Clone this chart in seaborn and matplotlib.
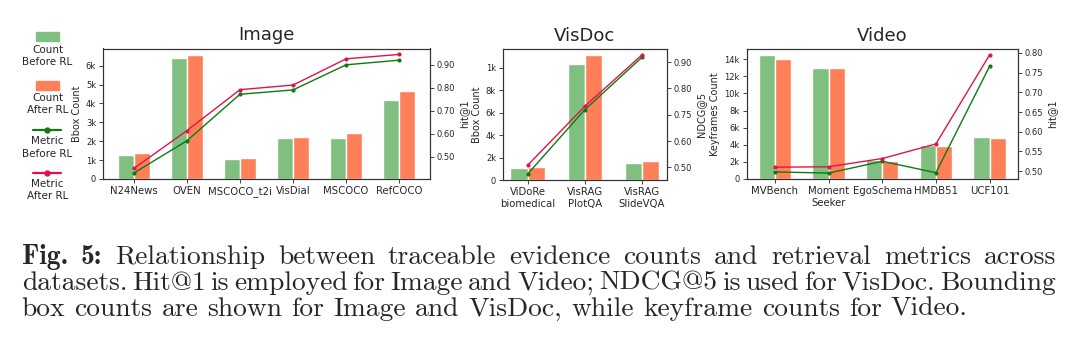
import numpy as np
import pandas as pd
import matplotlib
matplotlib.use("Agg")
import matplotlib.pyplot as plt
import seaborn as sns
from matplotlib.patches import Rectangle
from matplotlib.lines import Line2D

# ---- Image panel ----
image_names = ["N24News", "OVEN", "MSCOCO_t2i", "VisDial", "MSCOCO", "RefCOCO"]
image_count_before = [1260, 6400, 1050, 2160, 2160, 4160]
image_count_after = [1370, 6580, 1120, 2230, 2440, 4680]
image_hit_before = [0.430, 0.570, 0.772, 0.791, 0.900, 0.920]
image_hit_after = [0.450, 0.614, 0.792, 0.812, 0.926, 0.945]
image_count_ticks = [0, 1000, 2000, 3000, 4000, 5000, 6000]
image_count_labels = ["0", "1k", "2k", "3k", "4k", "5k", "6k"]
image_metric_ticks = [0.5, 0.6, 0.7, 0.8, 0.9]
image_metric_labels = ["0.50", "0.60", "0.70", "0.80", "0.90"]

# ---- VisDoc panel ----
visdoc_names = ["ViDoRe\nbiomedical", "VisRAG\nPlotQA", "VisRAG\nSlideVQA"]
visdoc_count_before = [1100, 10370, 1540]
visdoc_count_after = [1160, 11110, 1690]
visdoc_ndcg_before = [0.475, 0.719, 0.918]
visdoc_ndcg_after = [0.508, 0.732, 0.927]
visdoc_count_ticks = [0, 2000, 4000, 6000, 8000, 10000]
visdoc_count_labels = ["0", "2k", "4k", "6k", "8k", "1k"]
visdoc_metric_ticks = [0.5, 0.6, 0.7, 0.8, 0.9]
visdoc_metric_labels = ["0.50", "0.60", "0.75", "0.80", "0.90"]

# ---- Video panel ----
video_names = ["MVBench", "Moment\nSeeker", "EgoSchema", "HMDB51", "UCF101"]
video_count_before = [14460, 12990, 2200, 3980, 4950]
video_count_after = [14040, 12920, 2090, 3830, 4830]
video_hit_before = [0.498, 0.495, 0.525, 0.496, 0.766]
video_hit_after = [0.510, 0.511, 0.532, 0.569, 0.795]
video_count_ticks = [0, 2000, 4000, 6000, 8000, 10000, 12000, 14000]
video_count_labels = ["0", "2k", "4k", "6k", "8k", "10k", "12k", "14k"]
video_metric_ticks = [0.50, 0.55, 0.60, 0.65, 0.70, 0.75, 0.80]
video_metric_labels = ["0.50", "0.55", "0.60", "0.65", "0.70", "0.75", "0.80"]

caption_lines = [
    [("Fig.", True), ("5:", True), ("Relationship", False), ("between", False),
     ("traceable", False), ("evidence", False), ("counts", False), ("and", False),
     ("retrieval", False), ("metrics", False), ("across", False)],
    [(w, False) for w in "datasets. Hit@1 is employed for Image and Video; NDCG@5 is used for VisDoc. Bounding".split()],
    [(w, False) for w in "box counts are shown for Image and VisDoc, while keyframe counts for Video.".split()],
]

GREEN_BAR = "#7fbf7f"
ORANGE_BAR = "#ff7f59"
GREEN_LINE = "#0f7a0f"
RED_LINE = "#e0134a"

sns.set_style("ticks")
plt.rcParams["font.family"] = ["DejaVu Sans"]
plt.rcParams["axes.linewidth"] = 0.8
plt.rcParams["mathtext.fontset"] = "cm"

W, H = 1079, 349
fig = plt.figure(figsize=(W / 100, H / 100), dpi=100)


def px_axes(left, right, top, bottom):
    return fig.add_axes([left / W, 1 - bottom / H, (right - left) / W, (bottom - top) / H])


def draw_panel(ax, title, names, before, after, m_before, m_after,
               c_ticks, c_labels, m_ticks, m_labels, ylab_left, ylab_right):
    n = len(names)
    df = pd.DataFrame({
        "dataset": names * 2,
        "count": before + after,
        "stage": ["Before RL"] * n + ["After RL"] * n,
    })
    sns.barplot(data=df, x="dataset", y="count", hue="stage",
                palette=[GREEN_BAR, ORANGE_BAR], width=0.6, saturation=1,
                errorbar=None, legend=False, ax=ax)
    ax2 = ax.twinx()
    pos = np.arange(n)
    sns.lineplot(x=pos, y=m_before, ax=ax2, color=GREEN_LINE, lw=1,
                 marker="o", markersize=3, markeredgewidth=0)
    sns.lineplot(x=pos, y=m_after, ax=ax2, color=RED_LINE, lw=1,
                 marker="o", markersize=3, markeredgewidth=0)
    pad = 0.05 * (n - 1 + 0.6)
    ax.set_xlim(-0.3 - pad, n - 1 + 0.3 + pad)
    ax.set_xlabel("")
    ax.set_title(title, fontsize=13, pad=6)
    ax.set_yticks(c_ticks)
    ax.set_yticklabels(c_labels)
    ax.set_ylabel(ylab_left, fontsize=7, labelpad=3)
    ax2.set_yticks(m_ticks)
    ax2.set_yticklabels(m_labels)
    ax2.set_ylabel(ylab_right, fontsize=7, labelpad=3)
    ax.tick_params(axis="x", labelsize=7.3, length=3, width=0.6, pad=2)
    ax.tick_params(axis="y", labelsize=6, length=3, width=0.6, pad=2)
    ax2.tick_params(axis="y", labelsize=6, length=3, width=0.6, pad=2)
    for a in (ax, ax2):
        for s in a.spines.values():
            s.set_color("#333333")


ax_img = px_axes(103, 430, 48.5, 179)
draw_panel(ax_img, "Image", image_names, image_count_before, image_count_after,
           image_hit_before, image_hit_after, image_count_ticks, image_count_labels,
           image_metric_ticks, image_metric_labels, "Bbox Count", "hit@1")

ax_doc = px_axes(503, 666.5, 49, 180)
draw_panel(ax_doc, "VisDoc", visdoc_names, visdoc_count_before, visdoc_count_after,
           visdoc_ndcg_before, visdoc_ndcg_after, visdoc_count_ticks, visdoc_count_labels,
           visdoc_metric_ticks, visdoc_metric_labels, "Bbox Count", "NDCG@5")

ax_vid = px_axes(746.5, 1018, 49, 179)
draw_panel(ax_vid, "Video", video_names, video_count_before, video_count_after,
           video_hit_before, video_hit_after, video_count_ticks, video_count_labels,
           video_metric_ticks, video_metric_labels, "Keyframes Count", "hit@1")

# ---- legend column on the left ----
lax = px_axes(0, 100, 0, 200)
lax.set_xlim(0, 100)
lax.set_ylim(200, 0)
lax.axis("off")
lax.add_patch(Rectangle((36, 32), 23, 9, color=GREEN_BAR))
lax.add_patch(Rectangle((36, 80.5), 23, 9, color=ORANGE_BAR))
lax.add_line(Line2D([33, 61], [130, 130], color=GREEN_LINE, lw=1.6))
lax.add_line(Line2D([47], [130], color=GREEN_LINE, marker="o", markersize=3.5))
lax.add_line(Line2D([33, 61], [173, 173], color=RED_LINE, lw=1.6))
lax.add_line(Line2D([47], [173], color=RED_LINE, marker="o", markersize=3.5))
legend_texts = [(50, "Count"), (62, "Before RL"), (98, "Count"), (110, "After RL"),
                (141, "Metric"), (154, "Before RL"), (184, "Metric"), (196, "After RL")]
for yy, s in legend_texts:
    lax.text(47.5, yy, s, ha="center", va="center", fontsize=7.5)

# ---- caption (justified like the LaTeX original) ----
renderer = fig.canvas.get_renderer()
probe = fig.text(0, 0, " ".join(w for w, _ in caption_lines[2]),
                 family=["cmr10", "DejaVu Serif"], fontsize=10)
probe_w = probe.get_window_extent(renderer).width
probe.remove()
cap_size = 10 * 948 / probe_w

left_px, right_px = 21.7, 1056
baselines = [264.3, 290, 316]
for i, (words, yb) in enumerate(zip(caption_lines, baselines)):
    texts = []
    for w, bold in words:
        fam = ["cmb10", "DejaVu Serif"] if bold else ["cmr10", "DejaVu Serif"]
        texts.append(fig.text(0, 1 - yb / H, w, family=fam, fontsize=cap_size,
                              va="baseline", ha="left"))
    widths = [t.get_window_extent(renderer).width for t in texts]
    if i < 2:
        gap = (right_px - left_px - sum(widths)) / (len(words) - 1)
    else:
        gap = 0.333 * cap_size * 100 / 72
    x = left_px
    for t, wd in zip(texts, widths):
        t.set_x(x / W)
        x += wd + gap

fig.savefig("out.png", dpi=100)
